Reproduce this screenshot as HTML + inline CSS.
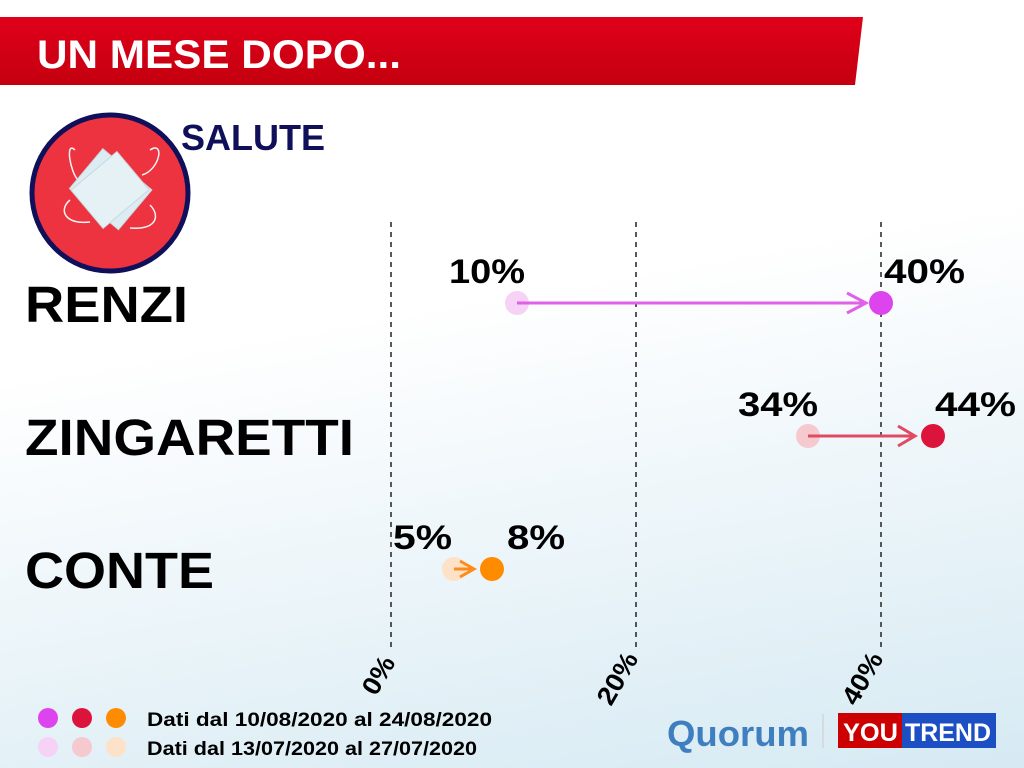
<!DOCTYPE html>
<html><head><meta charset="utf-8"><style>
html,body{margin:0;padding:0;width:1024px;height:768px;overflow:hidden}
body{background:linear-gradient(170deg,#ffffff 0%,#ffffff 40%,#eef6fa 65%,#d6eaf3 100%)}
svg{position:absolute;left:0;top:0}
text{font-family:"Liberation Sans",sans-serif;font-weight:bold}
</style></head><body>
<svg width="1024" height="768" viewBox="0 0 1024 768">
<defs>
<linearGradient id="rb" x1="0" y1="0" x2="0" y2="1"><stop offset="0" stop-color="#e0001a"/><stop offset="1" stop-color="#c4000f"/></linearGradient>
</defs>
<polygon points="0,17 863,17 855,85 0,85" fill="url(#rb)"/>
<text x="37" y="68" font-size="40" fill="#fff" textLength="364" lengthAdjust="spacingAndGlyphs">UN MESE DOPO...</text>
<circle cx="110" cy="193" r="78" fill="#ee3340" stroke="#0f0f5a" stroke-width="5"/>
<g fill="none" stroke="#f4f4f4" stroke-width="1.5">
<path d="M75,150 C65,140 70,172 78,180"/><path d="M150,150 C165,140 160,170 142,175"/>
<path d="M70,200 C58,210 65,225 90,222"/><path d="M150,205 C160,215 158,230 130,228"/>
</g>
<g transform="rotate(40 110 190)"><rect x="78" y="163" width="64" height="52" fill="#dcecf2" stroke="#c6d9e0"/></g>
<g transform="rotate(-40 110 190)"><rect x="80" y="165" width="60" height="50" fill="#e6f1f5" stroke="#c6d9e0"/></g>
<text x="181" y="150" font-size="36" fill="#0f0f5a" textLength="144" lengthAdjust="spacingAndGlyphs">SALUTE</text>
<text x="25" y="322" font-size="51" fill="#000" textLength="163" lengthAdjust="spacingAndGlyphs">RENZI</text>
<text x="25" y="455" font-size="51" fill="#000" textLength="329" lengthAdjust="spacingAndGlyphs">ZINGARETTI</text>
<text x="25" y="588" font-size="51" fill="#000" textLength="189" lengthAdjust="spacingAndGlyphs">CONTE</text>
<g stroke="#222" stroke-width="1.5" stroke-dasharray="5,5">
<line x1="391" y1="222" x2="391" y2="652"/><line x1="636" y1="222" x2="636" y2="652"/><line x1="881" y1="222" x2="881" y2="652"/>
</g>
<g font-size="26" fill="#000">
<text transform="translate(376,697) rotate(-60)" textLength="40" lengthAdjust="spacingAndGlyphs">0%</text>
<text transform="translate(611,707) rotate(-60)" textLength="56" lengthAdjust="spacingAndGlyphs">20%</text>
<text transform="translate(856,707) rotate(-60)" textLength="56" lengthAdjust="spacingAndGlyphs">40%</text>
</g>
<circle cx="517" cy="303" r="12" fill="#f6d2f6"/>
<line x1="517" y1="303" x2="866" y2="303" stroke="#e060e8" stroke-width="3"/>
<polyline points="847,293 866,303 847,313" fill="none" stroke="#e060e8" stroke-width="3"/>
<circle cx="881" cy="303" r="12" fill="#dd44ee"/>
<circle cx="808" cy="436" r="12" fill="#f6c9cf"/>
<line x1="808" y1="436" x2="915" y2="436" stroke="#e04b64" stroke-width="3"/>
<polyline points="898,426 915,436 898,446" fill="none" stroke="#e04b64" stroke-width="3"/>
<circle cx="933" cy="436" r="12" fill="#dc143c"/>
<circle cx="454" cy="569" r="12" fill="#fde2c8"/>
<line x1="454" y1="569" x2="474" y2="569" stroke="#ff8c1a" stroke-width="3"/>
<polyline points="460,561 474,569 460,577" fill="none" stroke="#ff8c1a" stroke-width="3"/>
<circle cx="492" cy="569" r="12" fill="#ff8c00"/>
<g font-size="34" fill="#000">
<text x="449" y="283" textLength="76" lengthAdjust="spacingAndGlyphs">10%</text>
<text x="884" y="283" textLength="81" lengthAdjust="spacingAndGlyphs">40%</text>
<text x="738" y="416" textLength="80" lengthAdjust="spacingAndGlyphs">34%</text>
<text x="935" y="416" textLength="81" lengthAdjust="spacingAndGlyphs">44%</text>
<text x="393" y="549" textLength="59" lengthAdjust="spacingAndGlyphs">5%</text>
<text x="507" y="549" textLength="58" lengthAdjust="spacingAndGlyphs">8%</text>
</g>
<circle cx="48" cy="718" r="10" fill="#dd44ee"/><circle cx="82" cy="718" r="10" fill="#dc143c"/><circle cx="116" cy="718" r="10" fill="#ff8c00"/>
<circle cx="48" cy="747" r="10" fill="#f6d2f6"/><circle cx="82" cy="747" r="10" fill="#f6c9cf"/><circle cx="116" cy="747" r="10" fill="#fde2c8"/>
<text x="147" y="726" font-size="19" fill="#000" textLength="345" lengthAdjust="spacingAndGlyphs">Dati dal 10/08/2020 al 24/08/2020</text>
<text x="147" y="755" font-size="19" fill="#000" textLength="330" lengthAdjust="spacingAndGlyphs">Dati dal 13/07/2020 al 27/07/2020</text>
<text x="667" y="746" font-size="36" fill="#3f7fbf" textLength="142" lengthAdjust="spacingAndGlyphs">Quorum</text>
<line x1="823" y1="714" x2="823" y2="748" stroke="#ccc" stroke-width="1"/>
<rect x="838" y="713" width="64" height="35" fill="#cc0000"/>
<rect x="902" y="713" width="94" height="35" fill="#1d4fc4"/>
<text x="843" y="741" font-size="25" fill="#fff" textLength="55" lengthAdjust="spacingAndGlyphs">YOU</text>
<text x="905" y="741" font-size="25" fill="#fff" textLength="86" lengthAdjust="spacingAndGlyphs">TREND</text>
</svg>
</body></html>
